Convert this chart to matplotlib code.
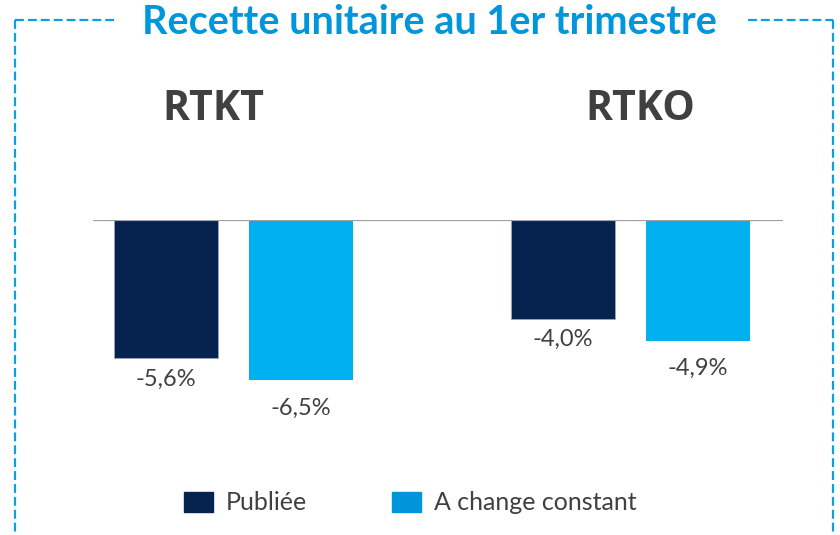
import matplotlib
matplotlib.use("Agg")
import matplotlib.pyplot as plt
from matplotlib.patches import Patch
from matplotlib.lines import Line2D

# data
groupes = ["RTKT", "RTKO"]
series = ["Publiée", "A change constant"]
publiee = [-5.6, -4.0]
change_constant = [-6.5, -4.9]
etiquettes_pub = ["-5,6%", "-4,0%"]
etiquettes_cc = ["-6,5%", "-4,9%"]

bleu_fonce = "#06224F"
bleu_clair = "#00B0EF"
bleu_legende = "#0095DA"
bleu_titre = "#0096DB"
gris_texte = "#404040"

W, H = 840, 535
fig = plt.figure(figsize=(W / 100, H / 100), dpi=100)


def fx(px):
    return px / W


def fy(py):
    return 1 - py / H


# axes from baseline (y=220px) down to y=450px, x 93..783 px
ax = fig.add_axes([fx(93), fy(450), fx(783) - fx(93), fy(220) - fy(450)])
ax.set_xlim(-0.354, 1.384)
ax.set_ylim(-(230 / 24.65), 0)
ax.axis("off")

decal = 0.17
larg = 0.263
pos = [0, 1]
b1 = ax.bar([p - decal for p in pos], publiee, width=larg, color=bleu_fonce,
            edgecolor="#9aa6b8", linewidth=0.6)
b2 = ax.bar([p + decal for p in pos], change_constant, width=larg, color=bleu_clair)
ax.axhline(0, color="#A0A0A0", linewidth=1.6)

for barres, etiquettes, off in [(b1, etiquettes_pub, -21), (b2, etiquettes_cc, -28)]:
    for b, t in zip(barres, etiquettes):
        ax.annotate(t, (b.get_x() + b.get_width() / 2, b.get_height()),
                    xytext=(0, off), textcoords="offset pixels",
                    ha="center", va="center", fontsize=17, color=gris_texte,
                    family="Lato")

# group titles (not exactly centred over the bars in the original)
x_titres = [213, 640]
for px, g in zip(x_titres, groupes):
    fig.text(fx(px), fy(109), g, ha="center", va="center", fontsize=29.5,
             fontweight="bold", color=gris_texte, family="Open Sans")

# title
fig.text(fx(429), fy(22), "Recette unitaire au 1er trimestre", ha="center",
         va="center", fontsize=28.5, fontweight="bold", color=bleu_titre,
         family="Lato")

# dashed frame
cadre = dict(color="#0AA0E2", linewidth=1.6, linestyle=(0, (4, 1.8)),
             transform=fig.transFigure)
fig.add_artist(Line2D([fx(15), fx(15)], [fy(20), fy(540)], **cadre))
fig.add_artist(Line2D([fx(15), fx(116)], [fy(20), fy(20)], **cadre))
fig.add_artist(Line2D([fx(748), fx(833)], [fy(20), fy(20)], **cadre))
fig.add_artist(Line2D([fx(833), fx(833)], [fy(20), fy(540)], **cadre))

# legend
poignees = [Patch(color=bleu_fonce), Patch(color=bleu_legende)]
fig.legend(poignees, series, loc="center", bbox_to_anchor=(fx(410), fy(503)),
           ncol=2, frameon=False, handlelength=1.16, handleheight=0.88,
           handletextpad=0.52, columnspacing=3.4,
           prop=dict(family="Lato", size=18), labelcolor=gris_texte)

fig.savefig("out.png", dpi=100)
